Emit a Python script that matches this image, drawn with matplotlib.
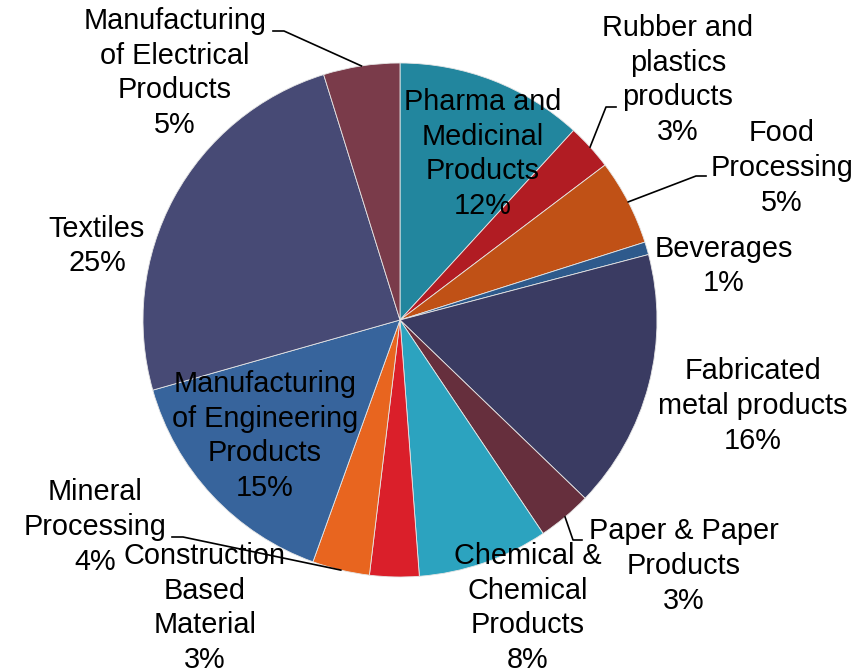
import numpy as np
import matplotlib.pyplot as plt

# === data ===
sectors = ["Pharma and\nMedicinal\nProducts", "Rubber and\nplastics\nproducts", "Food\nProcessing",
           "Beverages", "Fabricated\nmetal products", "Paper & Paper\nProducts",
           "Chemical &\nChemical\nProducts", "Construction\nBased\nMaterial", "Mineral\nProcessing",
           "Manufacturing\nof Engineering\nProducts", "Textiles",
           "Manufacturing\nof Electrical\nProducts"]
shares = [11.8, 2.9, 5.4, 0.8, 16.3, 3.4, 8.2, 3.1, 3.6, 15.1, 24.6, 4.8]
colors = ["#22869E", "#B11C23", "#C05116", "#2E5A8C", "#3A3B62", "#662F3D",
          "#2CA3BF", "#DA1F2A", "#E8651F", "#37649C", "#474A75", "#7A3B4A"]

# === layout (pixels, y measured from top) ===
W, H = 853, 671
CX, CY, R = 400, 320, 257
label_pos = [(483, 154), (678, 80), (782, 168), (724, 266), (753, 406), (684, 566),
             (528, 608), (205, 608), (95, 527), (265, 436), (97, 246), (175, 73)]
# leader lines: (text end point, elbow point) for labels that have one
leaders = {1: [(616, 107), (606, 107)], 2: [(706, 176), (696, 176)],
           5: [(582, 540), (573, 540)], 8: [(172, 537), (183, 537)],
           11: [(273, 31), (284, 31)]}

fig = plt.figure(figsize=(W / 100, H / 100), dpi=100)
ax = fig.add_axes([0, 0, 1, 1])

wedges, _ = ax.pie(shares, colors=colors, startangle=90, counterclock=False,
                   center=(CX, H - CY), radius=R,
                   wedgeprops=dict(edgecolor='#e6e6e6', linewidth=0.6))
ax.set_xlim(0, W)
ax.set_ylim(0, H)
ax.set_aspect('equal')
ax.axis('off')

for i, (name, v) in enumerate(zip(sectors, shares)):
    x, y = label_pos[i]
    ax.text(x, H - y, f"{name}\n{round(v)}%", ha='center', va='center',
            fontsize=20.8, family='Liberation Sans', linespacing=1.3, color='black')

# leader lines to wedge edges
for i, pts in leaders.items():
    w = wedges[i]
    mid = np.deg2rad((w.theta1 + w.theta2) / 2)
    ex, ey = CX + R * np.cos(mid), (H - CY) + R * np.sin(mid)
    xs = [p[0] for p in pts] + [ex]
    ys = [H - p[1] for p in pts] + [ey]
    ax.plot(xs, ys, color='black', linewidth=1.2)

fig.savefig("out.png", dpi=100)
